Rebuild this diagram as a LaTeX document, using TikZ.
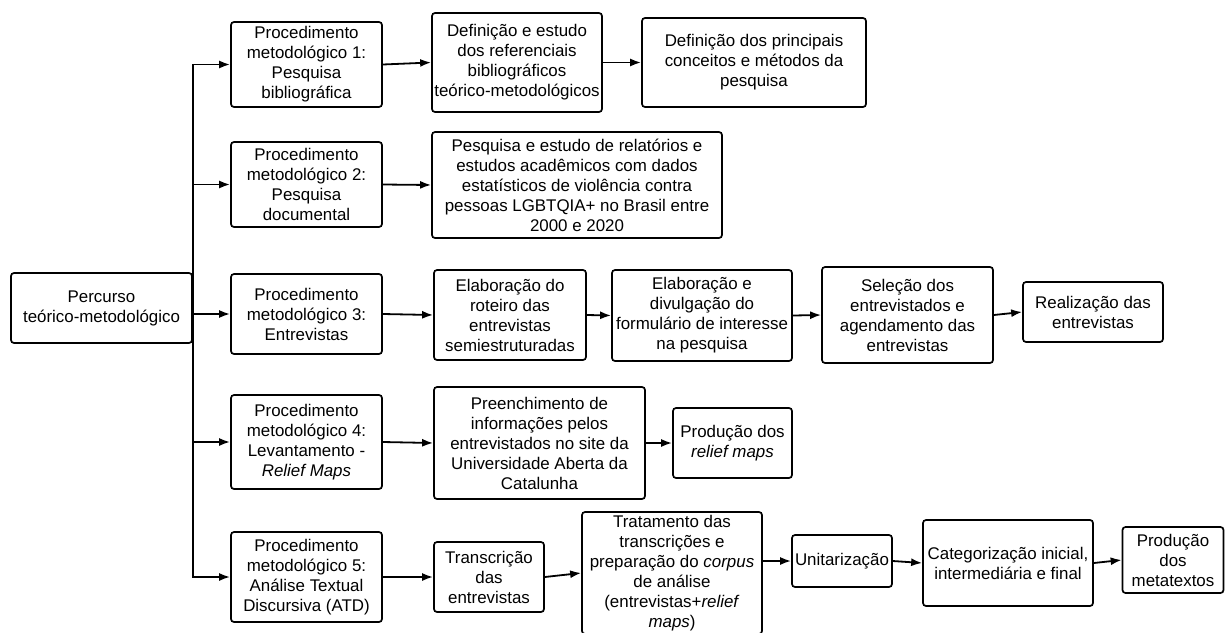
\documentclass[tikz,border=0pt]{standalone}
\usepackage{fontspec}
\setmainfont{Liberation Sans}
\usetikzlibrary{arrows.meta,positioning}

\begin{document}
\begin{tikzpicture}[
    x=1pt, y=-1pt,
    mybox/.style={
    rectangle,
    draw=black,
    line width=1.7pt,
    rounded corners=3pt,
    align=center,
    inner sep=0pt,
    font=\fontsize{16.9}{20}\selectfont},
    myarrow/.style={-{Latex[length=11pt,width=8pt]},line width=1.8pt}
    ]
    \useasboundingbox (0,0) rectangle (1225,632);

    \node[mybox, minimum width=181, minimum height=70] (root) at (101.5,308) {Percurso\\teórico-metodológico};

    \node[mybox, minimum width=151, minimum height=85] (p1) at (306.5,64.5) {Procedimento\\metodológico 1:\\Pesquisa\\bibliográfica};
    \node[mybox, minimum width=151, minimum height=85] (p2) at (306.5,184.5) {Procedimento\\metodológico 2:\\Pesquisa\\documental};
    \node[mybox, minimum width=151, minimum height=80] (p3) at (306.5,314) {Procedimento\\metodológico 3:\\Entrevistas};
    \node[mybox, minimum width=151, minimum height=94] (p4) at (306.5,442) {Procedimento\\metodológico 4:\\Levantamento -\\\textit{Relief Maps}};
    \node[mybox, minimum width=151, minimum height=90] (p5) at (306.5,577) {Procedimento\\metodológico 5:\\Análise Textual\\Discursiva (ATD)};

    \node[mybox, minimum width=170, minimum height=99] (ref) at (517,62.5) {Definição e estudo\\dos referenciais\\bibliográficos\\teórico-metodológicos};
    \node[mybox, minimum width=224, minimum height=89] (conc) at (754,62.5) {Definição dos principais\\conceitos e métodos da\\pesquisa};

    \node[mybox, minimum width=290, minimum height=106] (rel) at (577,185) {Pesquisa e estudo de relatórios e\\estudos acadêmicos com dados\\estatísticos de violência contra\\pessoas LGBTQIA+ no Brasil entre\\2000 e 2020};

    \node[mybox, minimum width=152, minimum height=90] (rot) at (510,315) {Elaboração do\\roteiro das\\entrevistas\\semiestruturadas};
    \node[mybox, minimum width=180, minimum height=91] (form) at (702,315.5) {Elaboração e\\divulgação do\\formulário de interesse\\na pesquisa};
    \node[mybox, minimum width=171, minimum height=96] (sel) at (907.5,315) {Seleção dos\\entrevistados e\\agendamento das\\entrevistas};
    \node[mybox, minimum width=140, minimum height=60] (real) at (1093,312) {Realização das\\entrevistas};

    \node[mybox, minimum width=211, minimum height=112] (pre) at (539.5,443) {Preenchimento de\\informações pelos\\entrevistados no site da\\Universidade Aberta da\\Catalunha};
    \node[mybox, minimum width=119, minimum height=70] (prod) at (732.5,443) {Produção dos\\\textit{relief maps}};

    \node[mybox, minimum width=110, minimum height=70] (trans) at (489,577) {Transcrição\\das\\entrevistas};
    \node[mybox, minimum width=180, minimum height=122] (trat) at (672,573) {Tratamento das\\transcrições e\\preparação do \textit{corpus}\\de análise\\(entrevistas+\textit{relief}\\\textit{maps})};
    \node[mybox, minimum width=100, minimum height=52] (unit) at (842,561) {Unitarização};
    \node[mybox, minimum width=170, minimum height=86] (cat) at (1008,563) {Categorização inicial,\\intermediária e final};
    \node[mybox, minimum width=101, minimum height=66] (meta) at (1173,560) {Produção\\dos\\metatextos};

    \foreach \p in {p1,p2,p3,p4,p5}
        \draw[myarrow] (root.east) |- (\p.west);

    \draw[myarrow] (p1.east) -- (ref.west);
    \draw[myarrow] (ref.east) -- (conc.west);
    \draw[myarrow] (p2.east) -- (rel.west);
    \draw[myarrow] (p3.east) -- (rot.west);
    \draw[myarrow] (rot.east) -- (form.west);
    \draw[myarrow] (form.east) -- (sel.west);
    \draw[myarrow] (sel.east) -- (real.west);
    \draw[myarrow] (p4.east) -- (pre.west);
    \draw[myarrow] (pre.east) -- (prod.west);
    \draw[myarrow] (p5.east) -- (trans.west);
    \draw[myarrow] (trans.east) -- (trat.west);
    \draw[myarrow] (trat.east |- unit.west) -- (unit.west);
    \draw[myarrow] (unit.east) -- (cat.west);
    \draw[myarrow] (cat.east) -- (meta.west);
\end{tikzpicture}
\end{document}
